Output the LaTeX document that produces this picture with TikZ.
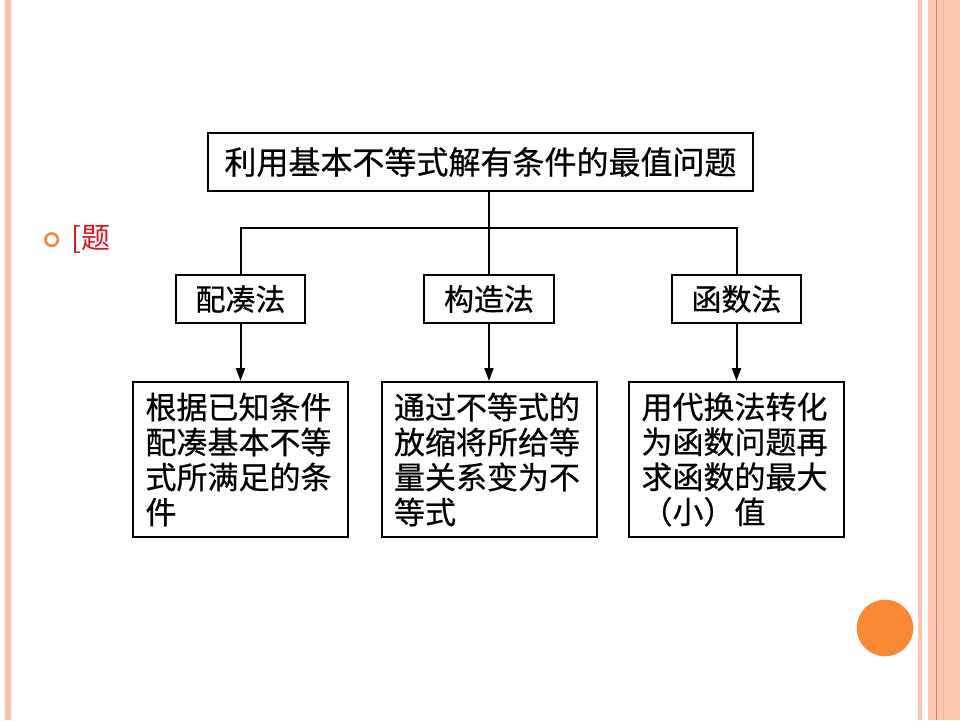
\documentclass[tikz,border=0pt]{standalone}
\usepackage{fontspec}
\newfontfamily\cjk{Noto Sans CJK SC}
\newfontfamily\cjkb[FakeBold=0.6]{Noto Sans CJK SC}
\usetikzlibrary{arrows.meta}
\definecolor{lstripe}{HTML}{F8BFAE}
\definecolor{rpale}{HTML}{FAC6B3}
\definecolor{rband}{HTML}{FCC9B4}
\definecolor{rline}{HTML}{D9804A}
\definecolor{rline2}{HTML}{F4B59C}
\definecolor{dot}{HTML}{F88A35}
\definecolor{ring}{HTML}{F08A3C}
\definecolor{tagred}{HTML}{D9131F}
\tikzset{
  boxline/.style={draw=black, line width=2pt},
  topbox/.style={boxline, minimum width=545pt, minimum height=58pt, inner sep=0pt,
    font=\cjkb\fontsize{32}{38}\selectfont},
  midbox/.style={boxline, minimum width=129pt, minimum height=48pt, inner sep=0pt,
    font=\cjkb\fontsize{30}{36}\selectfont},
  lowbox/.style={boxline, text width=190pt, inner xsep=12.5pt, inner ysep=0pt,
    minimum height=155pt, align=left, font=\cjkb\fontsize{31}{35}\selectfont},
  conn/.style={line width=2pt, black},
  arr/.style={conn, -{Triangle[length=13pt,width=9pt]}},
}
\begin{document}
\begin{tikzpicture}[x=1pt,y=-1pt]
\useasboundingbox (0,0) rectangle (960,720);
\fill[white] (0,0) rectangle (960,720);
% slide decoration
\fill[lstripe] (5,0) rectangle (11,720);
\fill[rpale] (918,0) rectangle (922,720);
\fill[rband] (928,0) rectangle (960,720);
\fill[rline] (935.8,0) rectangle (936.9,720);
\fill[rline2] (942.5,0) rectangle (944,720);
\fill[dot] (885,628) circle (28.3);
\draw[ring, line width=2.6pt] (51.7,239.7) circle (6.2);
\node[anchor=west, inner sep=0pt, text=tagred, font=\cjk\fontsize{29}{32}\selectfont] (tag) at (71,239) {[题};
% diagram
\node[topbox] (top) at (480.5,162) {利用基本不等式解有条件的最值问题};
\node[midbox] (m1) at (240.5,299) {配凑法};
\node[midbox, minimum width=130pt] (m2) at (489,299) {构造法};
\node[midbox] (m3) at (736.5,299) {函数法};
\node[lowbox] (b1) at (240.5,459.5) {根据已知条件\\配凑基本不等\\式所满足的条\\件};
\node[lowbox] (b2) at (489,459.5) {通过不等式的\\放缩将所给等\\量关系变为不\\等式};
\node[lowbox] (b3) at (736.5,459.5) {用代换法转化\\为函数问题再\\求函数的最大\\（小）值};
\coordinate (bar) at (489,228);
\draw[conn] (top.south -| m2.north) -- (m2.north);
\draw[conn] (m1.north) |- (bar) -| (m3.north);
\draw[arr] (m1.south) -- (b1.north);
\draw[arr] (m2.south) -- (b2.north);
\draw[arr] (m3.south) -- (b3.north);
\end{tikzpicture}
\end{document}
